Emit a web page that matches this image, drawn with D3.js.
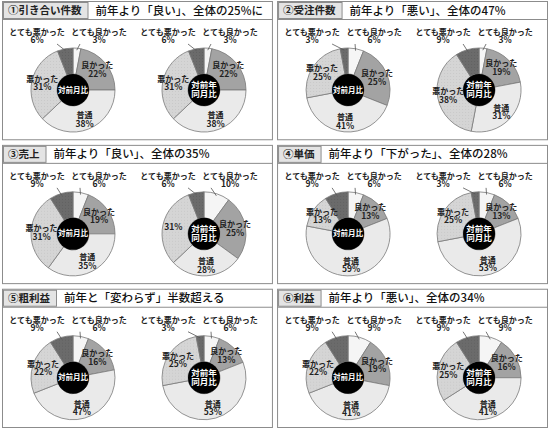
<!DOCTYPE html>
<html>
<head>
<meta charset="utf-8">
<script src="https://cdn.jsdelivr.net/npm/d3@7"></script>
<style>
  body { margin: 0; background: #fff; }
  svg { display: block; font-family: 'Noto Sans CJK JP', sans-serif; }
</style>
</head>
<body>
<svg width="550" height="429"></svg>
<script>
const categories = ['とても良かった', '良かった', '普通', '悪かった', 'とても悪かった'];
const panelLabels = ['①引き合い件数', '②受注件数', '③売上', '④単価', '⑤粗利益', '⑥利益'];
const panelTitles = [
  '前年より「良い」、全体の25%に',
  '前年より「悪い」、全体の47%',
  '前年より「良い」、全体の35%',
  '前年より「下がった」、全体の28%',
  '前年と「変わらず」半数超える',
  '前年より「悪い」、全体の34%'
];
const centerLabels = [['対前月比'], ['対前年', '同月比']];
// percentages, in category order, per panel
const monthValues = [
  [3, 22, 38, 31, 6],
  [6, 25, 41, 25, 3],
  [6, 19, 35, 31, 9],
  [6, 13, 59, 13, 9],
  [6, 16, 47, 22, 9],
  [9, 19, 41, 22, 9]
];
const yearValues = [
  [3, 22, 38, 31, 6],
  [3, 19, 31, 38, 9],
  [10, 25, 28, 31, 6],
  [6, 13, 53, 25, 3],
  [6, 13, 53, 25, 3],
  [9, 16, 41, 25, 9]
];
// [panel, pie, category] whose label shows only the number
const nameless = [[2, 1, 3]];

const svg = d3.select('svg');

// faint screen tones like the print original
const defs = svg.append('defs');
[['dotLight', '#d5d5d5', '#c6c6c6'], ['dotDark', '#6b6b6b', '#5e5e5e']].forEach(([id, base, dot]) => {
  const pat = defs.append('pattern')
    .attr('id', id)
    .attr('patternUnits', 'userSpaceOnUse')
    .attr('width', 3).attr('height', 3);
  pat.append('rect').attr('width', 3).attr('height', 3).attr('fill', base);
  pat.append('circle').attr('cx', 1.5).attr('cy', 1.5).attr('r', 0.5).attr('fill', dot);
});

const colors = ['#f5f5f5', '#a3a3a3', '#eaeaea', 'url(#dotLight)', 'url(#dotDark)'];

const col = d3.scaleBand().domain([0, 1]).range([2, 548]).paddingInner(0.015);
const row = d3.scaleBand().domain([0, 1, 2]).range([1, 428]).paddingInner(0.032);
const pieX = d3.scalePoint().domain([0, 1]).range([71, 202]);
const color = d3.scaleOrdinal().domain(categories).range(colors);

const headerH = 17;
const cy = 89;
const outerR = 42;
const innerR = 16;

const pie = d3.pie().sort(null).value(d => d.value);
const arc = d3.arc().innerRadius(innerR).outerRadius(outerR);
const labelArc = d3.arc().innerRadius(31).outerRadius(32);
const edgeArc = d3.arc().innerRadius(40).outerRadius(40);

panelLabels.forEach((label, p) => {
  const w = col.bandwidth();
  const h = row.bandwidth();
  const g = svg.append('g')
    .attr('class', 'panel')
    .attr('transform', `translate(${col(p % 2)},${row(Math.floor(p / 2))})`);

  g.append('rect')
    .attr('x', 0.5).attr('y', 0.5)
    .attr('width', w - 1).attr('height', h - 1)
    .attr('fill', '#fff')
    .attr('stroke', '#8c8c8c');

  // Header
  const tag = g.append('text')
    .attr('x', 6)
    .attr('y', headerH / 2 + 1)
    .attr('dy', '0.35em')
    .attr('font-size', 10.5)
    .attr('font-weight', 'bold')
    .attr('fill', '#222')
    .text(label);
  const tagW = tag.node().getComputedTextLength() + 11;
  g.insert('rect', 'text')
    .attr('x', 1.5).attr('y', 1.5)
    .attr('width', tagW).attr('height', headerH - 1)
    .attr('fill', '#e4e4e4')
    .attr('stroke', '#8c8c8c');
  g.append('line')
    .attr('x1', 0.5).attr('x2', w - 0.5)
    .attr('y1', headerH + 1.5).attr('y2', headerH + 1.5)
    .attr('stroke', '#8c8c8c');

  g.append('text')
    .attr('x', tagW + 9)
    .attr('y', headerH / 2 + 1)
    .attr('dy', '0.36em')
    .attr('font-size', 11.5)
    .attr('font-weight', 500)
    .attr('fill', '#111')
    .text(panelTitles[p]);

  // Two donuts
  [monthValues[p], yearValues[p]].forEach((vals, k) => {
    const cx = pieX(k);
    const data = categories.map((c, i) => ({ key: c, value: vals[i] }));
    const arcs = pie(data);
    const dg = g.append('g').attr('transform', `translate(${cx},${cy})`);

    dg.selectAll('path')
      .data(arcs)
      .join('path')
      .attr('d', arc)
      .attr('fill', d => color(d.data.key))
      .attr('stroke', '#7a7a7a')
      .attr('stroke-width', 0.8);

    dg.append('circle').attr('r', innerR).attr('fill', '#000');
    const cl = centerLabels[k];
    dg.append('text')
      .attr('text-anchor', 'middle')
      .attr('font-size', cl.length > 1 ? 8.5 : 7.5)
      .attr('font-weight', 'bold')
      .attr('fill', '#fff')
      .selectAll('tspan')
      .data(cl)
      .join('tspan')
      .attr('x', 0)
      .attr('y', (d, i) => (i - (cl.length - 1) / 2) * 9)
      .attr('dy', '0.35em')
      .text(d => d);

    // Inner labels
    arcs.slice(1, 4).forEach(a => {
      const i = categories.indexOf(a.data.key);
      const [lx, ly] = labelArc.centroid(a);
      const noName = nameless.some(n => n[0] === p && n[1] === k && n[2] === i);
      const lines = noName ? [`${a.data.value}%`] : [a.data.key, `${a.data.value}%`];
      dg.append('text')
        .attr('text-anchor', 'middle')
        .attr('font-weight', 'bold')
        .attr('fill', '#222')
        .selectAll('tspan')
        .data(lines)
        .join('tspan')
        .attr('x', lx)
        .attr('y', (d, j) => ly + (j - (lines.length - 1) / 2) * 8.5)
        .attr('dy', '0.35em')
        .attr('font-size', d => (d.endsWith('%') ? 8.5 : 8))
        .text(d => d);
    });

    // Outer labels with leader lines
    [[arcs[4], -36, 20], [arcs[0], 26, -19]].forEach(([a, off, lead]) => {
      const [ex, ey] = edgeArc.centroid(a);
      dg.append('line')
        .attr('x1', off + lead).attr('y1', -46)
        .attr('x2', ex).attr('y2', ey)
        .attr('stroke', '#555')
        .attr('stroke-width', 0.8);
      dg.append('text')
        .attr('text-anchor', 'middle')
        .attr('font-weight', 'bold')
        .attr('fill', '#222')
        .selectAll('tspan')
        .data([a.data.key, `${a.data.value}%`])
        .join('tspan')
        .attr('x', off)
        .attr('y', (d, j) => -58 + j * 8.5)
        .attr('dy', '0.35em')
        .attr('font-size', d => (d.endsWith('%') ? 8.5 : 8))
        .text(d => d);
    });
  });
});
</script>
</body>
</html>
